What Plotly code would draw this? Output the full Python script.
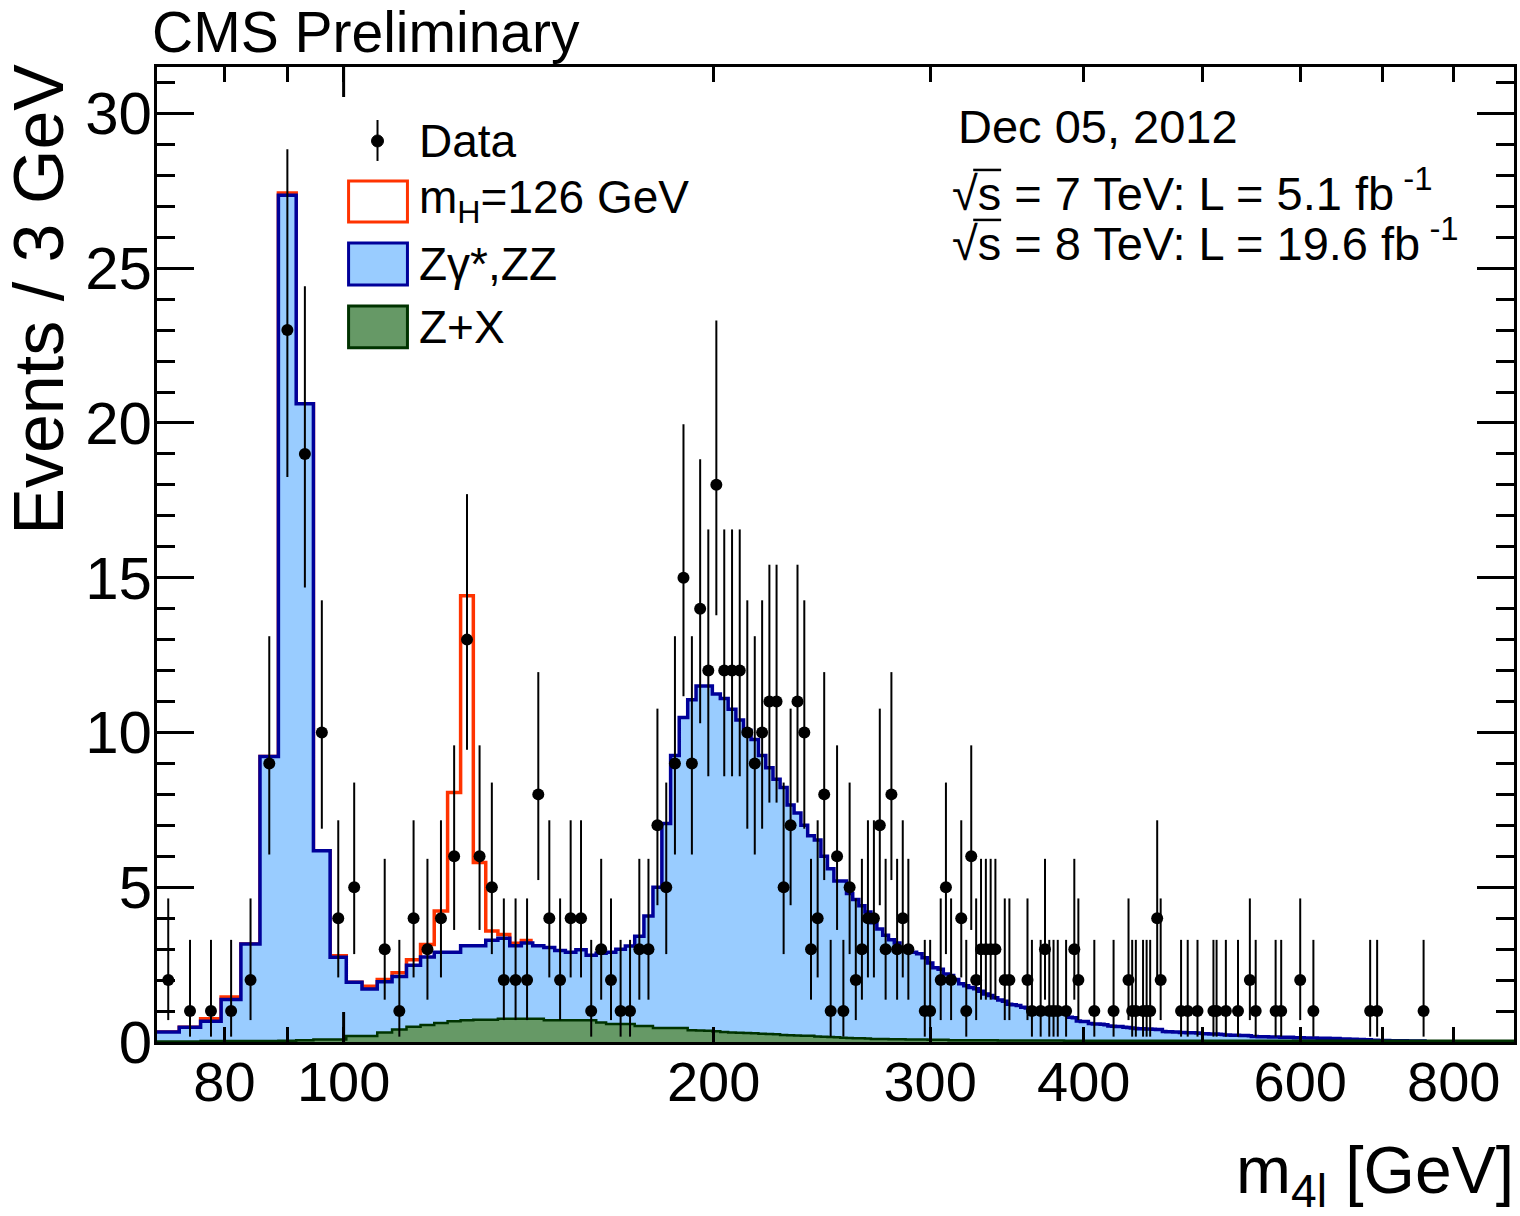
import numpy as np
import plotly.graph_objects as go

# ---------------- data ----------------
BIN_LOW = 70.5
BIN_WIDTH = 3.0
X_MAX = 895.5

# Z gamma*, ZZ + Z+X stacked background (per 3 GeV bin, bin centres 72, 75, 78, ...)
bkg_total = [
    0.32, 0.48, 0.67, 1.37, 3.17, 9.22, 27.36, 20.62, 6.18, 2.74,
    1.93, 1.71, 1.95, 2.12, 2.48, 2.75, 2.90, 2.90, 3.11, 3.11,
    3.29, 3.35, 3.11, 3.20, 3.11, 3.05, 2.96, 2.90, 2.98, 2.80,
    2.87, 2.90, 3.00, 3.10, 3.42, 4.07, 5.00, 7.06, 9.26, 10.48,
    11.06, 11.50, 11.50, 11.24, 11.10, 10.75, 10.40, 10.06, 9.77, 9.26,
    8.86, 8.49, 8.22, 7.66, 7.40, 7.00, 6.66, 6.53, 6.00, 5.60,
    5.20, 5.20, 4.80, 4.60, 4.40, 4.20, 3.85, 3.65, 3.45, 3.30,
    3.20, 3.05, 2.95, 2.90, 2.85, 2.72, 2.55, 2.40, 2.35, 2.20,
    2.15, 2.02, 1.88, 1.82, 1.76, 1.72, 1.64, 1.55, 1.50, 1.43,
    1.36, 1.32, 1.22, 1.20, 1.18, 1.12, 1.10, 1.08, 1.05, 1.00,
    1.00, 0.98, 0.97, 0.95, 0.95, 0.93, 0.80, 0.78, 0.68, 0.66,
    0.66, 0.60, 0.58, 0.58, 0.57, 0.56, 0.52, 0.51, 0.50, 0.50,
    0.48, 0.47, 0.45, 0.44, 0.43, 0.43, 0.42, 0.42, 0.41, 0.40,
    0.40, 0.34, 0.33, 0.33, 0.32, 0.32, 0.31, 0.31, 0.30, 0.30,
    0.30, 0.29, 0.28, 0.27, 0.27, 0.26, 0.26, 0.26, 0.25, 0.24,
    0.23, 0.23, 0.22, 0.22, 0.22, 0.21, 0.21, 0.21, 0.20, 0.18,
    0.18, 0.17, 0.17, 0.17, 0.17, 0.16, 0.16, 0.16, 0.16, 0.15,
    0.15, 0.15, 0.15, 0.15, 0.14, 0.14, 0.14, 0.14, 0.13, 0.13,
    0.13, 0.13, 0.13, 0.12, 0.12, 0.12, 0.12, 0.12, 0.11, 0.11,
    0.11, 0.11, 0.10, 0.10, 0.10, 0.10, 0.09, 0.09, 0.09, 0.08,
    0.08, 0.08, 0.07, 0.07, 0.07, 0.06, 0.06, 0.06, 0.05, 0.05,
    0.05, 0.05, 0.05, 0.04, 0.04, 0.04, 0.04, 0.04, 0.04, 0.04,
    0.04, 0.03, 0.03, 0.03, 0.03, 0.03, 0.03, 0.03, 0.03, 0.03,
]

# Z+X reducible background
zx_bkg = [
    0.02, 0.02, 0.03, 0.03, 0.03, 0.03, 0.04, 0.06, 0.08, 0.08,
    0.19, 0.19, 0.31, 0.40, 0.49, 0.55, 0.61, 0.67, 0.70, 0.72,
    0.72, 0.75, 0.75, 0.75, 0.75, 0.70, 0.70, 0.70, 0.70, 0.70,
    0.63, 0.58, 0.58, 0.58, 0.52, 0.52, 0.45, 0.45, 0.45, 0.45,
    0.38, 0.37, 0.36, 0.35, 0.32, 0.31, 0.30, 0.29, 0.28, 0.27,
    0.26, 0.25, 0.23, 0.22, 0.21, 0.20, 0.20, 0.18, 0.17, 0.16,
    0.15, 0.14, 0.13, 0.12, 0.12, 0.11, 0.10, 0.10, 0.10, 0.09,
    0.09, 0.09, 0.08, 0.08, 0.08, 0.08, 0.07, 0.07, 0.07, 0.07,
    0.06, 0.06, 0.06, 0.06, 0.06, 0.06, 0.06, 0.06, 0.06, 0.06,
    0.05, 0.05, 0.05, 0.05, 0.05, 0.05, 0.05, 0.05, 0.05, 0.05,
    0.05, 0.05, 0.05, 0.05, 0.05, 0.04, 0.04, 0.04, 0.04, 0.04,
    0.04, 0.04, 0.04, 0.04, 0.04, 0.04, 0.04, 0.04, 0.04, 0.04,
    0.04, 0.04, 0.04, 0.04, 0.04, 0.04, 0.04, 0.04, 0.04, 0.04,
    0.04, 0.04, 0.04, 0.04, 0.04, 0.04, 0.04, 0.04, 0.04, 0.04,
    0.04, 0.04, 0.04, 0.04, 0.04, 0.04, 0.04, 0.04, 0.04, 0.04,
    0.04, 0.04, 0.04, 0.04, 0.04, 0.04, 0.04, 0.04, 0.04, 0.04,
    0.04, 0.04, 0.04, 0.04, 0.04, 0.04, 0.04, 0.04, 0.04, 0.04,
    0.04, 0.04, 0.04, 0.04, 0.04, 0.04, 0.04, 0.04, 0.04, 0.04,
    0.04, 0.04, 0.04, 0.04, 0.04, 0.04, 0.04, 0.04, 0.04, 0.04,
    0.04, 0.04, 0.04, 0.04, 0.04, 0.04, 0.04, 0.04, 0.04, 0.04,
    0.04, 0.04, 0.04, 0.04, 0.04, 0.04, 0.04, 0.04, 0.04, 0.04,
    0.04, 0.04, 0.04, 0.04, 0.04, 0.04, 0.04, 0.04, 0.04, 0.04,
    0.04, 0.04, 0.04, 0.04, 0.04, 0.04, 0.04, 0.04, 0.04, 0.04,
    0.04, 0.04, 0.04, 0.04, 0.04, 0.04, 0.04, 0.04, 0.04, 0.04,
    0.04, 0.04, 0.04, 0.04, 0.04, 0.04, 0.04, 0.04, 0.04, 0.04,
    0.04, 0.04, 0.04, 0.04, 0.04, 0.04, 0.04, 0.04, 0.04, 0.04,
    0.04, 0.04, 0.04, 0.04, 0.04, 0.04, 0.04, 0.04, 0.04, 0.04,
    0.04, 0.04, 0.04, 0.04, 0.04,
]

# m_H = 126 GeV signal stacked on top of the background (first bins only)
signal_126 = [
    0.00, 0.00, 0.08, 0.08, 0.00, 0.00, 0.07, 0.00, 0.00, 0.05,
    0.00, 0.09, 0.07, 0.12, 0.18, 0.40, 1.33, 5.16, 11.31, 2.69,
    0.30, 0.12, 0.08, 0.08,
]

# observed events (bin centre in GeV, count)
data_mass = [
    72, 75, 78, 81, 84, 87, 90, 93, 96, 99,
    102, 108, 111, 114, 117, 120, 123, 126, 129, 132,
    135, 138, 141, 144, 147, 150, 153, 156, 159, 162,
    165, 168, 171, 174, 177, 180, 183, 186, 189, 192,
    195, 198, 201, 204, 207, 210, 213, 216, 219, 222,
    225, 228, 231, 234, 237, 240, 243, 246, 249, 252,
    255, 258, 261, 264, 267, 270, 273, 276, 279, 282,
    285, 288, 297, 300, 306, 309, 312, 318, 321, 324,
    327, 330, 333, 336, 339, 345, 348, 360, 363, 369,
    372, 375, 378, 381, 387, 393, 396, 408, 423, 435,
    438, 441, 447, 450, 453, 459, 462, 480, 486, 495,
    510, 513, 522, 534, 546, 552, 573, 579, 600, 615,
    684, 693, 756,
]
data_count = [
    2, 1, 1, 1, 2, 9, 23, 19, 10, 4,
    5, 3, 1, 4, 3, 4, 6, 13, 6, 5,
    2, 2, 2, 8, 4, 2, 4, 4, 1, 3,
    2, 1, 1, 3, 3, 7, 5, 9, 15, 9,
    14, 12, 18, 12, 12, 12, 10, 9, 10, 11,
    11, 5, 7, 11, 10, 3, 4, 8, 1, 6,
    1, 5, 2, 3, 4, 4, 7, 3, 8, 3,
    4, 3, 1, 1, 2, 5, 2, 4, 1, 6,
    2, 3, 3, 3, 3, 2, 2, 2, 1, 1,
    3, 1, 1, 1, 1, 3, 2, 1, 1, 2,
    1, 1, 1, 1, 1, 4, 2, 1, 1, 1,
    1, 1, 1, 1, 2, 1, 1, 1, 2, 1,
    1, 1, 1,
]

# Poisson (Garwood 68%) interval bounds for counts n = 0..23
poisson_low = [0.0, 0.173, 0.708, 1.367, 2.086, 2.840, 3.620, 4.419, 5.232, 6.057,
               6.891, 7.734, 8.585, 9.441, 10.30, 11.17, 12.04, 12.92, 13.79, 14.68,
               15.57, 16.46, 17.35, 18.25]
poisson_high = [1.841, 3.300, 4.638, 5.918, 7.163, 8.382, 9.584, 10.77, 11.95, 13.11,
                14.27, 15.42, 16.56, 17.70, 18.83, 19.96, 21.08, 22.20, 23.31, 24.42,
                25.53, 26.63, 27.73, 28.84]

x_tick_vals = [80, 100, 200, 300, 400, 600, 800]
x_tick_text = ["80", "100", "200", "300", "400", "600", "800"]
x_minor_vals = [90, 500, 700]

# ---------------- styling ----------------
FONT = "Liberation Sans, Arial, Helvetica, sans-serif"
W, H = 1520, 1216
L, R, T, B = 157, 1517, 67, 1042.5
BLUE_FILL = "#99ccff"
BLUE_LINE = "#000099"
GREEN_FILL = "#669966"
GREEN_LINE = "#003300"
RED_LINE = "#ff3300"


def step_xy(values):
    n = len(values)
    edges = BIN_LOW + BIN_WIDTH * np.arange(n + 1)
    return list(edges), list(values) + [values[-1]]


fig = go.Figure()

sig_tot = [b + s for b, s in zip(bkg_total[:len(signal_126)], signal_126)]
sx, sy = step_xy(sig_tot)
fig.add_trace(go.Scatter(x=sx, y=sy, mode="lines", line=dict(shape="hv", color=RED_LINE, width=3.5),
                         name="m_H=126 GeV", showlegend=False, hoverinfo="skip"))

bx, by = step_xy(bkg_total)
fig.add_trace(go.Scatter(x=bx, y=by, mode="lines", fill="tozeroy", fillcolor=BLUE_FILL,
                         line=dict(shape="hv", color=BLUE_LINE, width=3.5),
                         name="Zγ*,ZZ", showlegend=False, hoverinfo="skip"))

gx, gy = step_xy(zx_bkg)
fig.add_trace(go.Scatter(x=gx, y=gy, mode="lines", fill="tozeroy", fillcolor=GREEN_FILL,
                         line=dict(shape="hv", color=GREEN_LINE, width=2.5),
                         name="Z+X", showlegend=False, hoverinfo="skip"))

err_hi = [poisson_high[n] - n for n in data_count]
err_lo = [n - poisson_low[n] for n in data_count]
fig.add_trace(go.Scatter(x=data_mass, y=data_count, mode="markers",
                         marker=dict(color="black", size=12),
                         error_y=dict(type="data", symmetric=False, array=err_hi, arrayminus=err_lo,
                                      color="black", thickness=2, width=0),
                         name="Data", showlegend=False))

log_lo, log_hi = np.log10(BIN_LOW), np.log10(X_MAX)

fig.update_layout(
    width=W, height=H,
    margin=dict(l=L, r=W - R, t=T, b=H - B),
    paper_bgcolor="white", plot_bgcolor="white",
    font=dict(family=FONT, color="black"),
    showlegend=False,
    xaxis=dict(type="log", range=[log_lo, log_hi], showgrid=False, zeroline=False,
               showline=True, linecolor="black", linewidth=3, mirror="ticks",
               ticks="inside", ticklen=15, tickwidth=3, tickcolor="black",
               tickmode="array", tickvals=x_tick_vals, ticktext=x_tick_text,
               minor=dict(ticks="inside", tickmode="array", tickvals=x_minor_vals,
                          ticklen=15, tickwidth=3, tickcolor="black"),
               tickfont=dict(size=56, family=FONT), ticklabelstandoff=-11),
    yaxis=dict(range=[0, 31.5], showgrid=False, zeroline=False,
               showline=True, linecolor="black", linewidth=3, mirror="ticks",
               ticks="inside", ticklen=37, tickwidth=3, tickcolor="black",
               tickmode="linear", tick0=0, dtick=5,
               minor=dict(ticks="inside", dtick=1, ticklen=18, tickwidth=3, tickcolor="black"),
               tickfont=dict(size=60, family=FONT), ticklabelstandoff=-10),
)


def fx(px):
    return (px - L) / (R - L)


def fy(py):
    return (B - py) / (B - T)


shapes = []
# long decade tick at 100 GeV (bottom and top)
f100 = (2.0 - log_lo) / (log_hi - log_lo)
shapes.append(dict(type="line", xref="paper", yref="paper", x0=f100, x1=f100, y0=0, y1=30 / (B - T),
                   line=dict(color="black", width=3)))
shapes.append(dict(type="line", xref="paper", yref="paper", x0=f100, x1=f100, y0=1, y1=1 - 30 / (B - T),
                   line=dict(color="black", width=3)))

# legend symbols
shapes.append(dict(type="line", xref="paper", yref="paper", x0=fx(378), x1=fx(378), y0=fy(120), y1=fy(161),
                   line=dict(color="black", width=2)))
shapes.append(dict(type="circle", xref="paper", yref="paper", x0=fx(372), x1=fx(384), y0=fy(135), y1=fy(147),
                   fillcolor="black", line=dict(color="black", width=1)))
shapes.append(dict(type="rect", xref="paper", yref="paper", x0=fx(349), x1=fx(408), y0=fy(181), y1=fy(222),
                   fillcolor="white", line=dict(color=RED_LINE, width=3)))
shapes.append(dict(type="rect", xref="paper", yref="paper", x0=fx(349), x1=fx(408), y0=fy(243), y1=fy(285),
                   fillcolor=BLUE_FILL, line=dict(color=BLUE_LINE, width=3)))
shapes.append(dict(type="rect", xref="paper", yref="paper", x0=fx(349), x1=fx(408), y0=fy(306), y1=fy(348),
                   fillcolor=GREEN_FILL, line=dict(color=GREEN_LINE, width=3)))
# overline of the square-root sign
for yy in (170, 220):
    shapes.append(dict(type="line", xref="paper", yref="paper", x0=fx(975), x1=fx(1003), y0=fy(yy), y1=fy(yy),
                       line=dict(color="black", width=2.5)))
fig.update_layout(shapes=shapes)

ann = []


def text(s, x, y, size, xanchor="left", yanchor="middle", angle=0):
    ann.append(dict(text=s, x=fx(x), y=fy(y), xref="paper", yref="paper", showarrow=False,
                    xanchor=xanchor, yanchor=yanchor, textangle=angle,
                    font=dict(size=size, family=FONT, color="black")))


text("CMS Preliminary", 150, 32, 57)
text("Data", 418, 141, 46)
text("m<sub>H</sub>=126 GeV", 418, 201, 46)
text("Zγ*,ZZ", 418, 264, 46)
text("Z+X", 418, 327, 46)
text("Dec 05, 2012", 958, 127, 47)
text("√s = 7 TeV: L = 5.1 fb<sup> -1</sup>", 952, 190, 47)
text("√s = 8 TeV: L = 19.6 fb<sup> -1</sup>", 952, 240, 47)
text("Events / 3 GeV", 38, 62, 70, xanchor="center", yanchor="top", angle=-90)
text("m<sub>4l</sub> [GeV]", 1519, 1176, 66, xanchor="right")
fig.update_layout(annotations=ann)

fig.write_html("out.html")
